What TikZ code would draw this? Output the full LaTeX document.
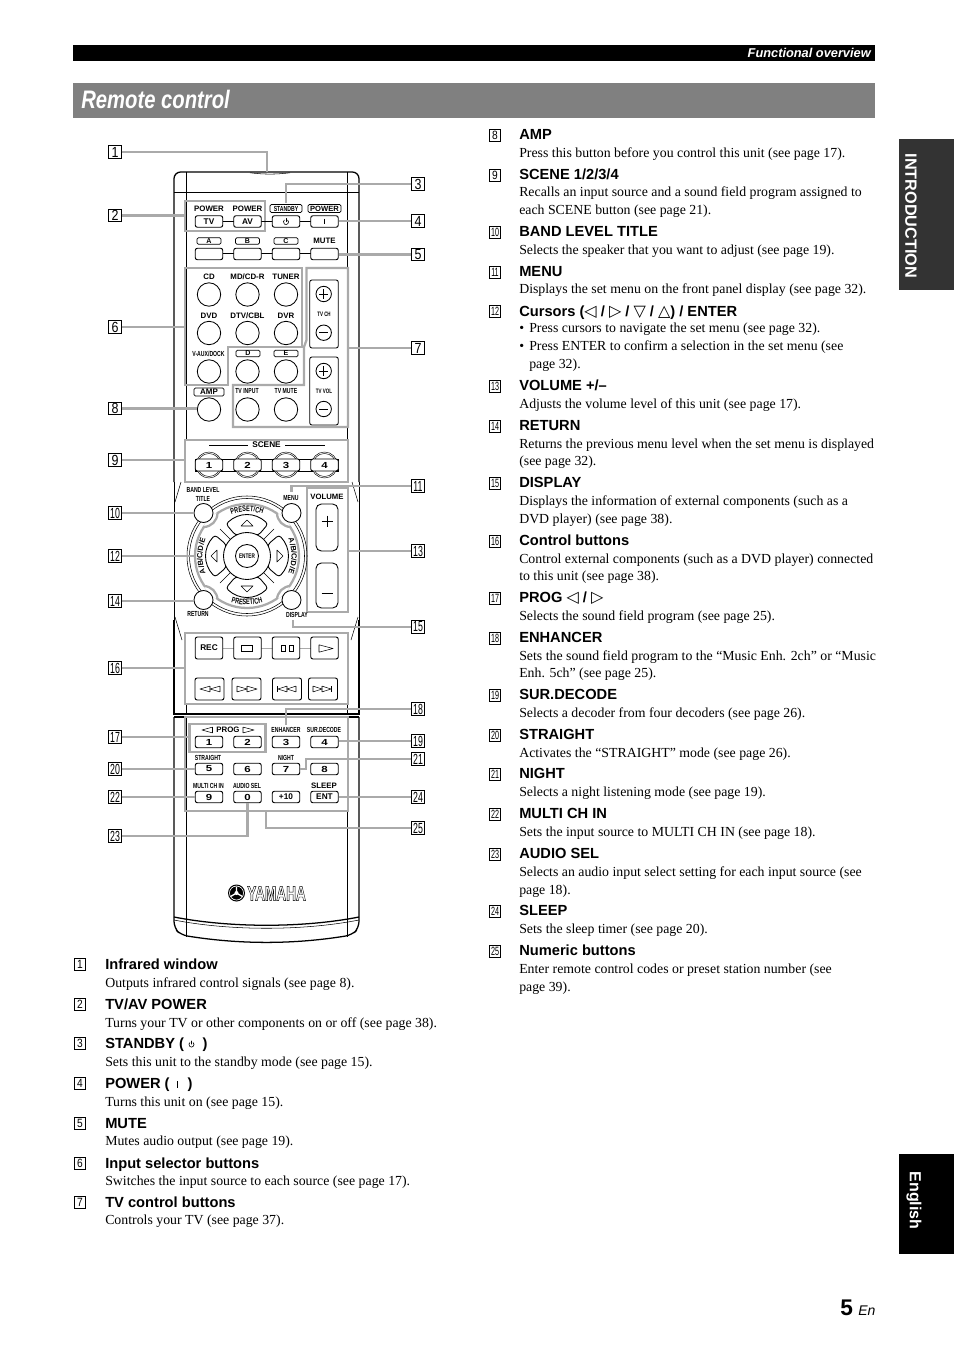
\documentclass[tikz,border=0pt]{standalone}
\usepackage{fontspec}
\usetikzlibrary{decorations.text}
\setmainfont{Liberation Serif}
\setsansfont{Liberation Sans}
\newfontfamily\hsf{Liberation Sans}
\newfontfamily\cond[FakeStretch=.70]{Liberation Sans}
\newfontfamily\titlef[FakeStretch=.80]{Liberation Sans}
\newfontfamily\numA[FakeStretch=.85]{Liberation Sans}
\newfontfamily\numB[FakeStretch=.6]{Liberation Sans}
\newfontfamily\logof[FakeStretch=.66]{Liberation Sans}
\newfontfamily\widef[FakeStretch=1.3]{Liberation Sans}
\newfontfamily\sym{DejaVu Sans}
\definecolor{leadgray}{RGB}{170,170,170}
\definecolor{barblack}{RGB}{0,0,0}
\definecolor{bargray}{RGB}{128,128,128}
\definecolor{tabdark}{RGB}{51,51,51}
\tikzset{
 hdtext/.style={anchor=base west,inner sep=0pt,font=\hsf\bfseries\fontsize{11}{11}\selectfont},
 bdtext/.style={anchor=base west,inner sep=0pt,font=\rmfamily\fontsize{10.37}{10}\selectfont},
 lead/.style={draw=leadgray,line width=1.7pt},
 gbox/.style={draw=leadgray,line width=1.7pt,inner sep=0pt},
 body/.style={draw=black,line width=.95pt},
 thin line/.style={draw=black,line width=.4pt},
 rb/.style={draw=black,line width=.7pt,rounded corners=1.6pt,fill=white,inner sep=0pt,font=\hsf\bfseries\fontsize{6.2}{6}\selectfont},
 rbk/.style={draw=black,line width=.65pt,rounded corners=1.6pt,inner sep=0pt},
 cb/.style={draw=black,line width=.65pt,circle,fill=white,inner sep=0pt},
 tiny/.style={inner sep=0pt,font=\hsf\bfseries\fontsize{5.9}{6}\selectfont},
 tinyc/.style={inner sep=0pt,font=\cond\bfseries\fontsize{5.5}{6}\selectfont},
 frlab/.style={draw=black,line width=.45pt,rounded corners=1pt,inner sep=0pt},
 numbox/.style={draw=black,line width=.45pt,inner sep=0pt},
 icon/.style={draw=black,line width=.4pt},
 digit/.style={font=\widef\bfseries\fontsize{6.6}{6}\selectfont}
}
\newcommand\Hd[4]{\node[hdtext] (#1) at (#2,#3) {#4};}
\newcommand\Bd[4]{\node[bdtext] (#1) at (#2,#3) {#4};}
\newcommand\Ln[4]{\node[numbox,minimum width=7.9pt,minimum height=8.8pt,
  font=\ifnum#4>9 \numB\fontsize{9}{8}\selectfont\else\numA\fontsize{9}{8}\selectfont\fi] (#1) at (#2,#3) {#4};}
\newcommand\Dn[4]{\node[numbox,minimum width=9.6pt,minimum height=9.4pt,
  font=\ifnum#4>9 \numB\fontsize{11}{8}\selectfont\else\numA\fontsize{11}{8}\selectfont\fi] (#1) at (#2,#3) {#4};}
\newcommand\Kb[6]{\node[rb,minimum width=#4*.75pt,minimum height=#5*.75pt] (#1) at (#2,#3) {#6};}
\newcommand\Kd[6]{\node[rb,digit,minimum width=#4*.75pt,minimum height=#5*.75pt] (#1) at (#2,#3) {#6};}
\newcommand\Cb[4]{\node[cb,minimum size=#4*1.5pt] (#1) at (#2,#3) {};}
\newcommand\Pw[3]{\draw[line width=.45pt,line cap=round] (#1+1.6,#2-1.9) arc[start angle=50,end angle=-230,radius=1.9pt];\draw[line width=.45pt,line cap=round] (#1,#2-3.6) -- (#1,#2-.4);}
\newcommand\Tri[3]{\draw[icon,line join=round] (#1,#2) -- (#3,#2-2.9) -- (#3,#2+2.9) -- cycle;}
\newcommand\Tg[1]{{\sym\fontsize{12}{8}\selectfont #1}}
\begin{document}
\begin{tikzpicture}[x=.75pt,y=-.75pt]
\useasboundingbox (0,0) rectangle (954,1348);
% header
\node[fill=barblack,minimum width=802*.75pt,minimum height=16*.75pt,inner sep=0pt] (topbar) at (474,53) {};
\node[anchor=base east,inner sep=0pt,text=white,font=\hsf\bfseries\itshape\fontsize{9.6}{9}\selectfont] (topt) at (871,57.5) {Functional overview};
\node[fill=bargray,minimum width=802*.75pt,minimum height=35*.75pt,inner sep=0pt] (titlebar) at (474,100.5) {};
\node[anchor=base west,inner sep=0pt,text=white,font=\titlef\bfseries\itshape\fontsize{19}{19}\selectfont] (titlet) at (81,108.5) {Remote control};
% side tabs
\node[fill=tabdark,minimum width=55*.75pt,minimum height=151*.75pt,inner sep=0pt] (tabA) at (926.5,214.5) {};
\node[text=white,rotate=-90,inner sep=0pt,font=\hsf\bfseries\fontsize{12.2}{12}\selectfont] (tabAt) at (911,216) {INTRODUCTION};
\node[fill=barblack,minimum width=55*.75pt,minimum height=100*.75pt,inner sep=0pt] (tabB) at (926.5,1204) {};
\node[text=white,rotate=-90,inner sep=0pt,font=\hsf\bfseries\fontsize{12}{12}\selectfont] (tabBt) at (914,1200.5) {English};
\node[anchor=base west,inner sep=0pt,font=\hsf\bfseries\fontsize{17}{17}\selectfont] (pgn) at (840,1315) {5};
\node[anchor=base west,inner sep=0pt,font=\hsf\itshape\fontsize{10.5}{10}\selectfont] (pgen) at (858,1315) {En};
% remote body
\draw[body,rounded corners=5] (174,482) -- (174,172) -- (359,172) -- (359,482);
\draw[thin line] (174,482) -- (174,620); \draw[thin line] (359,482) -- (359,620);
\draw[body] (174,620) -- (174,714) -- (359,714) -- (359,620);
\draw[body] (174,717) -- (359,717);
\draw[body,rounded corners=5] (174,717) -- (174,928) -- (181,935) .. controls (240,944.5) and (293,944.5) .. (352,935) -- (359,928) -- (359,717);
\draw[body] (174,917) .. controls (230,928) and (303,928) .. (359,917);
\draw[thin line] (174,920) .. controls (230,931) and (303,931) .. (359,920);
\draw[thin line] (250,172.8) .. controls (265,174.5) and (275,174.5) .. (290,172.8);
\draw[thin line] (174,192) -- (359,192);
\draw[thin line] (186,172) -- (186,440); \draw[thin line] (347,172) -- (347,440);
\draw[thin line] (186,703) -- (186,714); \draw[thin line] (347,703) -- (347,714);
\draw[thin line] (186,717) -- (186,936.5); \draw[thin line] (347,717) -- (347,936.5);
\draw[thin line] (181,482) -- (175,502); \draw[thin line] (352,482) -- (358,502);
\draw[thin line] (175,617) -- (182,640); \draw[thin line] (358,617) -- (351,640);
% gray boxes
\node[gbox,minimum width=80*.75pt,minimum height=30*.75pt] (box2) at (225,216) {};
\draw[lead,line join=miter] (185,268) -- (302,268) -- (302,347) -- (228,347) -- (228,385) -- (185,385) -- cycle;
\coordinate (box6w) at (185,327);
\draw[lead,line join=miter] (306.5,268) -- (348,268) -- (348,427) -- (233,427) -- (233,385) -- (304,385) -- (304,347) -- (306.5,340) -- cycle;
\coordinate (box7e) at (348,348);
\node[gbox,minimum width=163*.75pt,minimum height=42*.75pt] (box9) at (266.5,461) {};
\node[gbox,minimum width=41*.75pt,minimum height=124*.75pt] (box13) at (327.5,550) {};
\node[gbox,minimum width=163*.75pt,minimum height=71*.75pt] (box16) at (266.5,668.5) {};
\node[gbox,minimum width=163*.75pt,minimum height=94*.75pt] (box25) at (266.5,764) {};
\node[gbox,minimum width=76*.75pt,minimum height=28*.75pt] (box17) at (227.5,738) {};
% top buttons
\node[tiny] (lp1) at (209,208.5) {POWER};
\node[tiny] (lp2) at (247.5,208.5) {POWER};
\node[frlab,minimum width=32*.75pt,minimum height=8*.75pt,font=\cond\bfseries\fontsize{5.5}{6}\selectfont] (lstb) at (286,208.5) {STANDBY};
\node[frlab,minimum width=33*.75pt,minimum height=8*.75pt,font=\hsf\bfseries\fontsize{5.7}{6}\selectfont] (lpow) at (324.5,208.5) {POWER};
\draw[thin line] (222,221.5) -- (311,221.5);
\draw[thin line] (222,253.5) -- (311,253.5);
\Kb{bTV}{209}{221.5}{27.5}{11.5}{TV}
\Kb{bAV}{247.5}{221.5}{27.5}{11.5}{AV}
\Kb{bSB}{286}{221.5}{27.5}{11.5}{}
\Kb{bON}{324.5}{221.5}{27.5}{11.5}{}
\Pw{286}{222}{}
\draw[line width=.6pt] (324.5,219) -- (324.5,224);
\node[frlab,minimum width=24*.75pt,minimum height=6.5*.75pt,font=\hsf\bfseries\fontsize{5.3}{5}\selectfont] (lA) at (209,241) {A};
\node[frlab,minimum width=24*.75pt,minimum height=6.5*.75pt,font=\hsf\bfseries\fontsize{5.3}{5}\selectfont] (lB) at (247.5,241) {B};
\node[frlab,minimum width=24*.75pt,minimum height=6.5*.75pt,font=\hsf\bfseries\fontsize{5.3}{5}\selectfont] (lC) at (286,241) {C};
\node[tiny] (lmute) at (324.5,241) {MUTE};
\Kb{bA}{209}{254}{27.5}{11.5}{}
\Kb{bB}{247.5}{254}{27.5}{11.5}{}
\Kb{bC}{286}{254}{27.5}{11.5}{}
\Kb{bM}{324.5}{254}{27.5}{11.5}{}
% input selector
\node[tiny] (lcd) at (209,276.5) {CD};
\node[tiny] (lmd) at (247.5,276.5) {MD/CD-R};
\node[tiny] (ltu) at (286,276.5) {TUNER};
\Cb{c1}{209}{294.5}{11.7}
\Cb{c2}{247.5}{294.5}{11.7}
\Cb{c3}{286}{294.5}{11.7}
\node[tiny] (ldvd) at (209,315.5) {DVD};
\node[tiny] (ldtv) at (247.5,315.5) {DTV/CBL};
\node[tiny] (ldvr) at (286,315.5) {DVR};
\Cb{c4}{209}{333}{11.7}
\Cb{c5}{247.5}{333}{11.7}
\Cb{c6}{286}{333}{11.7}
\node[tinyc] (lvaux) at (208.5,353.5) {V-AUX/DOCK};
\node[frlab,minimum width=24*.75pt,minimum height=6.5*.75pt,font=\hsf\bfseries\fontsize{5.3}{5}\selectfont] (lD) at (248,353.5) {D};
\node[frlab,minimum width=24*.75pt,minimum height=6.5*.75pt,font=\hsf\bfseries\fontsize{5.3}{5}\selectfont] (lE) at (286,353.5) {E};
\Cb{c7}{209}{371.5}{11.7}
\Cb{c8}{247.5}{371.5}{11.7}
\Cb{c9}{286}{371.5}{11.7}
\node[frlab,minimum width=30*.75pt,minimum height=8*.75pt,font=\hsf\bfseries\fontsize{6}{6}\selectfont] (lamp) at (209,392) {AMP};
\node[tinyc] (ltvi) at (247,391.5) {TV INPUT};
\node[tinyc] (ltvm) at (286,391.5) {TV MUTE};
\Cb{cAMP}{209}{409.5}{11.7}
\Cb{cTVI}{247.5}{409.5}{11.7}
\Cb{cTVM}{286}{409.5}{11.7}
% TV panels
\node[rbk,minimum width=28.5*.75pt,minimum height=68*.75pt] (pCH) at (324,314) {};
\node[rbk,minimum width=28.5*.75pt,minimum height=68*.75pt] (pVL) at (324,391) {};
\Cb{pl1}{323.7}{294}{7.7}
\Cb{mi1}{323.7}{332.7}{7.7}
\Cb{pl2}{323.7}{371}{7.7}
\Cb{mi2}{323.7}{409}{7.7}
\draw[line width=.5pt] (319,294) -- (328.4,294) (323.7,289.3) -- (323.7,298.7);
\draw[line width=.5pt] (319,332.7) -- (328.4,332.7);
\draw[line width=.5pt] (319,371) -- (328.4,371) (323.7,366.3) -- (323.7,375.7);
\draw[line width=.5pt] (319,409) -- (328.4,409);
\node[inner sep=0pt,font=\cond\bfseries\fontsize{4.8}{5}\selectfont] (ltvch) at (324,314) {TV CH};
\node[inner sep=0pt,font=\cond\bfseries\fontsize{4.8}{5}\selectfont] (ltvvol) at (324,391.5) {TV VOL};
% scene
\node[tiny,fill=white,inner xsep=3pt,font=\hsf\bfseries\fontsize{6.2}{6}\selectfont] (lscene) at (266.5,445) {SCENE};
\draw[thin line] (209,445) -- (lscene.west);
\draw[thin line] (lscene.east) -- (325,445);
\draw[thin line] (195,459) rectangle (338,471);
\foreach \cx/\nm in {209/a,247.5/b,286/c,324.5/d}{
 \node[circle,draw=black,line width=.35pt,fill=white,minimum size=26*.75pt,inner sep=0pt] (sc\nm o) at (\cx,465) {};
 \node[circle,draw=black,line width=.35pt,minimum size=23*.75pt,inner sep=0pt] (sc\nm i) at (\cx,465) {};
}
\Kd{s1}{209}{465}{27.5}{12}{1}
\Kd{s2}{247.5}{465}{27.5}{12}{2}
\Kd{s3}{286}{465}{27.5}{12}{3}
\Kd{s4}{324.5}{465}{27.5}{12}{4}
% dpad
\draw[thin line] (247,556) circle[radius=60];
\draw[thin line] (247,556) circle[radius=57.5];
\draw[lead] (247,556) circle[radius=52];
\begin{scope}
\clip (247,556) circle[radius=53];
\draw[lead,fill=white] (203.5,513) circle[radius=14];
\draw[lead,fill=white] (291,513) circle[radius=14];
\draw[lead,fill=white] (203.5,600) circle[radius=14];
\draw[lead,fill=white] (291,600) circle[radius=14];
\end{scope}
\foreach \a in {0,90,180,270}{
 \begin{scope}[shift={(247,556)},rotate=\a]
 \draw[line width=.65pt,rounded corners=2.2pt,fill=white] (-11.7,-21) -- (-21,-32) .. controls (-8,-44) and (8,-44) .. (21,-32) -- (11.7,-21) -- cycle;
 \draw[thin line] (-16.5,-16.5) -- (-27,-27);
 \draw[icon,line join=round] (-6,-30) -- (0,-36) -- (6,-30) -- cycle;
 \end{scope}
}
\node[cb,minimum size=47*.75pt] (dring) at (247,556) {};
\node[cb,minimum size=23*.75pt,font=\cond\bfseries\fontsize{5}{5}\selectfont] (dent) at (247,556) {ENTER};
\coordinate (dgl) at (195,556);
\Cb{bTitle}{203.5}{513}{9.5}
\Cb{bMenu}{291.5}{513}{9.5}
\Cb{bRet}{203.5}{600}{9.5}
\Cb{bDisp}{291.5}{600}{9.5}
\begin{scope}[shift={(247,556)}]
\path[decorate,decoration={text along path,text align=center,text={|\cond\bfseries\fontsize{6}{5}\selectfont|PRESET/CH}}] (-23,-38.5) .. controls (-8.8,-46.5) and (8.8,-46.5) .. (23,-38.5);
\path[decorate,decoration={text along path,text align=center,text={|\cond\bfseries\fontsize{6}{5}\selectfont|PRESET/CH}}] (-24,43) .. controls (-9,50.5) and (9,50.5) .. (24,43);
\path[decorate,decoration={text along path,text align=center,text={|\hsf\bfseries\fontsize{5.6}{5}\selectfont|A/B/C/D/E}}] (-38.5,23) .. controls (-46.5,8.8) and (-46.5,-8.8) .. (-38.5,-23);
\path[decorate,decoration={text along path,text align=center,text={|\hsf\bfseries\fontsize{5.6}{5}\selectfont|A/B/C/D/E}}] (38.5,-23) .. controls (46.5,-8.8) and (46.5,8.8) .. (38.5,23);
\end{scope}
\node[tinyc] (lband) at (203,490) {BAND LEVEL};
\node[tinyc] (ltitle) at (203,498.5) {TITLE};
\node[tinyc] (lmenu) at (291,498.5) {MENU};
\node[tinyc] (lret) at (198,614.5) {RETURN};
\node[tinyc] (ldisp) at (297,614.5) {DISPLAY};
% volume
\node[tiny,font=\hsf\bfseries\fontsize{5.8}{6}\selectfont] (lvol) at (327,497) {VOLUME};
\node[rbk,rounded corners=4pt,minimum width=22*.75pt,minimum height=47*.75pt] (vP) at (327,527.5) {};
\node[rbk,rounded corners=4pt,minimum width=22*.75pt,minimum height=45*.75pt] (vM) at (327,585.5) {};
\draw[line width=.5pt] (321.5,521) -- (332.5,521) (327,515.5) -- (327,526.5);
\draw[line width=.5pt] (321.5,593.5) -- (332.5,593.5);
% transport
\draw[leadgray,line width=.5pt] (222.7,648) -- (233.7,648) (261,648) -- (272.5,648) (299.5,648) -- (311,648);
\Kb{tREC}{209}{648}{27.5}{22}{REC}
\Kb{tST}{247.5}{648}{27.5}{22}{}
\Kb{tPA}{286}{648}{27.5}{22}{}
\Kb{tPL}{324.5}{648}{27.5}{22}{}
\draw[icon] (241.7,645.5) rectangle (252.5,651.7);
\draw[icon] (281.5,645.5) rectangle (285.5,651.7) (289.7,645.5) rectangle (293.7,651.7);
\draw[icon,line join=round] (319,644.8) -- (333,648.5) -- (319,652.2) -- cycle;
\Kb{tRW}{209.5}{689}{29}{22}{}
\Kb{tFF}{246.5}{689}{29}{22}{}
\Kb{tPV}{287}{689}{29}{22}{}
\Kb{tNX}{323}{689}{29}{22}{}
\Tri{200}{689}{210}\Tri{210}{689}{220}
\Tri{247}{689}{237}\Tri{257}{689}{247}
\Tri{278}{689}{287}\Tri{287}{689}{296}
\draw[icon] (277.5,686) -- (277.5,692);
\Tri{322}{689}{313}\Tri{331}{689}{322}
\draw[icon] (331.5,686) -- (331.5,692);
% lower keypad
\node[tiny,fill=white,font=\hsf\bfseries\fontsize{5.9}{6}\selectfont] (lprog) at (228,730) {PROG};
\Tri{202}{730}{212.5}
\Tri{254}{730}{243}
\node[tinyc] (lenh) at (286,730) {ENHANCER};
\node[tinyc] (lsur) at (324,730) {SUR.DECODE};
\Kd{n1}{209}{742}{27.5}{11.5}{1}
\Kd{n2}{247.5}{742}{27.5}{11.5}{2}
\Kd{n3}{286}{742}{27.5}{11.5}{3}
\Kd{n4}{324.5}{742}{27.5}{11.5}{4}
\node[tinyc] (lstr) at (208,758) {STRAIGHT};
\node[tinyc] (lngt) at (286,758) {NIGHT};
\Kd{n5}{209}{769}{27.5}{11.5}{5}
\Kd{n6}{247.5}{769}{27.5}{11.5}{6}
\Kd{n7}{286}{769}{27.5}{11.5}{7}
\Kd{n8}{324.5}{769}{27.5}{11.5}{8}
\node[tinyc] (lmul) at (208.5,785.5) {MULTI CH IN};
\node[tinyc] (laud) at (247,785.5) {AUDIO SEL};
\node[tiny] (lslp) at (324,785.5) {SLEEP};
\Kd{n9}{209}{797}{27.5}{11.5}{9}
\Kd{n0}{247.5}{797}{27.5}{11.5}{0}
\Kb{nP}{286}{797}{27.5}{11.5}{+10}
\Kb{nE}{324.5}{797}{27.5}{11.5}{ENT}
% logo
\fill[black] (236.5,893) circle[radius=8.5];
\draw[white,line width=.5pt] (236.5,893) circle[radius=7];
\fill[white] (236.5,893) circle[radius=2];
\draw[white,line width=1pt] (236.5,893) -- (236.5,886.5) (236.5,893) -- (231,896.3) (236.5,893) -- (242,896.3);
\node[anchor=west,inner sep=0pt,font=\logof\bfseries\fontsize{15.5}{15}\selectfont] (llogo) at (247,893.5) {\special{pdf:code 1 Tr 0.3 w}YAMAHA\special{pdf:code 0 Tr}};
% diagram number labels
\Dn{L1}{115}{152}{1}
\Dn{L2}{115}{215.5}{2}
\Dn{L3}{418}{184}{3}
\Dn{L4}{418}{221}{4}
\Dn{L5}{418}{254.5}{5}
\Dn{L6}{115}{327}{6}
\Dn{L7}{418}{348}{7}
\Dn{L8}{115}{408.5}{8}
\Dn{L9}{115}{460}{9}
\Dn{L10}{115}{513}{10}
\Dn{L11}{418}{486}{11}
\Dn{L12}{115}{556}{12}
\Dn{L13}{418}{551}{13}
\Dn{L14}{115}{601}{14}
\Dn{L15}{418}{627}{15}
\Dn{L16}{115}{668}{16}
\Dn{L17}{115}{737}{17}
\Dn{L18}{418}{709}{18}
\Dn{L19}{418}{741}{19}
\Dn{L20}{115}{769}{20}
\Dn{L21}{418}{759}{21}
\Dn{L22}{115}{797}{22}
\Dn{L23}{115}{836}{23}
\Dn{L24}{418}{797}{24}
\Dn{L25}{418}{828}{25}
% leaders
\coordinate (t1) at (267,172);
\coordinate (t3) at (286,203);
\coordinate (t11) at (291.5,492);
\coordinate (t15) at (293,620);
\coordinate (t18) at (286,725);
\coordinate (t21) at (306,769);
\coordinate (t23) at (247.5,803);
\coordinate (t25) at (266,811);
\draw[lead] (L1.east) -| (t1);
\draw[lead] (L2.east) -- (L2.east -| box2.west);
\draw[lead] (L3.west) -| (t3);
\draw[lead] (L4.west) -- (L4.west -| bON.east);
\draw[lead] (L5.west) -- (L5.west -| bM.east);
\draw[lead] (L6.east) -- (L6.east -| box6w);
\draw[lead] (L7.west) -- (L7.west -| box7e);
\draw[lead] (L8.east) -- (L8.east -| cAMP.west);
\draw[lead] (L9.east) -- (L9.east -| box9.west);
\draw[lead] (L10.east) -- (L10.east -| bTitle.west);
\draw[lead] (L11.west) -| (t11);
\draw[lead] (L12.east) -- (L12.east -| dgl);
\draw[lead] (L13.west) -- (L13.west -| box13.east);
\draw[lead] (L14.east) -- (L14.east -| bRet.west);
\draw[lead] (L15.west) -| (t15);
\draw[lead] (L16.east) -- (L16.east -| box16.west);
\draw[lead] (L17.east) -- (L17.east -| box17.west);
\draw[lead] (L18.west) -| (t18);
\draw[lead] (L19.west) -- (L19.west -| n4.east);
\draw[lead] (L20.east) -- (L20.east -| n5.west);
\draw[lead] (L21.west) -| (t21) -- (n7.east);
\draw[lead] (L22.east) -- (L22.east -| n9.west);
\draw[lead] (L23.east) -| (t23);
\draw[lead] (L24.west) -- (L24.west -| nE.east);
\draw[lead] (L25.west) -| (t25);
% left column
\Ln{a1}{80}{964}{1}\Hd{ah1}{105}{969}{Infrared window}\Bd{ab1}{105}{987}{Outputs infrared control signals (see page 8).}
\Ln{a2}{80}{1004}{2}\Hd{ah2}{105}{1009}{TV/AV POWER}\Bd{ab2}{105}{1027}{Turns your TV or other components on or off (see page 38).}
\Ln{a3}{80}{1043}{3}\Hd{ah3}{105}{1048}{STANDBY (\hspace{14pt})}\Bd{ab3}{105}{1066}{Sets this unit to the standby mode (see page 15).}
\Pw{191.5}{1044.5}{}
\Ln{a4}{80}{1083}{4}\Hd{ah4}{105}{1088}{POWER (\hspace{13.5pt})}\Bd{ab4}{105}{1106}{Turns this unit on (see page 15).}
\draw[line width=.7pt] (177,1081) -- (177,1088);
\Ln{a5}{80}{1123}{5}\Hd{ah5}{105}{1128}{MUTE}\Bd{ab5}{105}{1145}{Mutes audio output (see page 19).}
\Ln{a6}{80}{1163}{6}\Hd{ah6}{105}{1168}{Input selector buttons}\Bd{ab6}{105}{1185}{Switches the input source to each source (see page 17).}
\Ln{a7}{80}{1202}{7}\Hd{ah7}{105}{1207}{TV control buttons}\Bd{ab7}{105}{1224}{Controls your TV (see page 37).}
% right column
\begin{scope}[yshift=-.75pt]
\Ln{b8}{495}{134}{8}\Hd{bh8}{519}{138.5}{AMP}\Bd{bb8}{519}{157}{Press this button before you control this unit (see page 17).}
\Ln{b9}{495}{174}{9}\Hd{bh9}{519}{178.5}{SCENE 1/2/3/4}\Bd{bb9}{519}{196}{Recalls an input source and a sound field program assigned to}\Bd{bb9x}{519}{214}{each SCENE button (see page 21).}
\Ln{b10}{495}{231}{10}\Hd{bh10}{519}{235.5}{BAND LEVEL TITLE}\Bd{bb10}{519}{253}{Selects the speaker that you want to adjust (see page 19).}
\Ln{b11}{495}{271}{11}\Hd{bh11}{519}{275.5}{MENU}\Bd{bb11}{519}{292}{Displays the set menu on the front panel display (see page 32).}
\Ln{b12}{495}{310.5}{12}\Hd{bh12}{519}{315}{Cursors (\Tg{◁} / \Tg{▷} / \Tg{▽} / \Tg{△}) / ENTER}
\Bd{bb12}{519}{331}{\makebox[7.5pt][l]{•}Press cursors to navigate the set menu (see page 32).}
\Bd{bb12x}{519}{349}{\makebox[7.5pt][l]{•}Press ENTER to confirm a selection in the set menu (see}
\Bd{bb12y}{529}{367}{page 32).}
\Ln{b13}{495}{385}{13}\Hd{bh13}{519}{389.5}{VOLUME +/–}\Bd{bb13}{519}{407}{Adjusts the volume level of this unit (see page 17).}
\Ln{b14}{495}{425}{14}\Hd{bh14}{519}{429.5}{RETURN}\Bd{bb14}{519}{447}{Returns the previous menu level when the set menu is displayed}\Bd{bb14x}{519}{464}{(see page 32).}
\Ln{b15}{495}{482}{15}\Hd{bh15}{519}{486.5}{DISPLAY}\Bd{bb15}{519}{504}{Displays the information of external components (such as a}\Bd{bb15x}{519}{522}{DVD player) (see page 38).}
\Ln{b16}{495}{540}{16}\Hd{bh16}{519}{544.5}{Control buttons}\Bd{bb16}{519}{562}{Control external components (such as a DVD player) connected}\Bd{bb16x}{519}{579}{to this unit (see page 38).}
\Ln{b17}{495}{597}{17}\Hd{bh17}{519}{601.5}{PROG \Tg{◁} / \Tg{▷}}\Bd{bb17}{519}{619}{Selects the sound field program (see page 25).}
\Ln{b18}{495}{637}{18}\Hd{bh18}{519}{641.5}{ENHANCER}\Bd{bb18}{519}{659}{Sets the sound field program to the “Music Enh. 2ch” or “Music}\Bd{bb18x}{519}{676}{Enh. 5ch” (see page 25).}
\Ln{b19}{495}{694}{19}\Hd{bh19}{519}{698.5}{SUR.DECODE}\Bd{bb19}{519}{716}{Selects a decoder from four decoders (see page 26).}
\Ln{b20}{495}{734}{20}\Hd{bh20}{519}{738.5}{STRAIGHT}\Bd{bb20}{519}{756}{Activates the “STRAIGHT” mode (see page 26).}
\Ln{b21}{495}{773}{21}\Hd{bh21}{519}{777.5}{NIGHT}\Bd{bb21}{519}{795}{Selects a night listening mode (see page 19).}
\Ln{b22}{495}{813}{22}\Hd{bh22}{519}{817.5}{MULTI CH IN}\Bd{bb22}{519}{835}{Sets the input source to MULTI CH IN (see page 18).}
\Ln{b23}{495}{853}{23}\Hd{bh23}{519}{857.5}{AUDIO SEL}\Bd{bb23}{519}{875}{Selects an audio input select setting for each input source (see}\Bd{bb23x}{519}{893}{page 18).}
\Ln{b24}{495}{910}{24}\Hd{bh24}{519}{914.5}{SLEEP}\Bd{bb24}{519}{932}{Sets the sleep timer (see page 20).}
\Ln{b25}{495}{950}{25}\Hd{bh25}{519}{954.5}{Numeric buttons}\Bd{bb25}{519}{972}{Enter remote control codes or preset station number (see}\Bd{bb25x}{519}{990}{page 39).}
\end{scope}
\end{tikzpicture}
\end{document}
